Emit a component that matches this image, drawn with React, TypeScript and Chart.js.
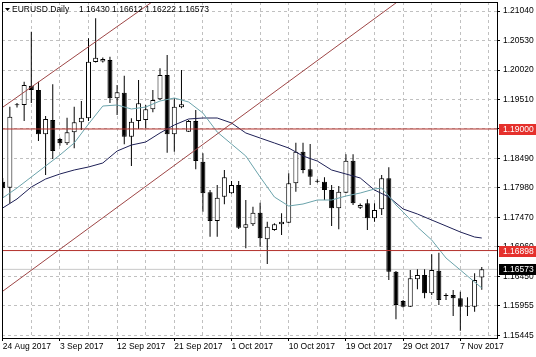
import React, { useEffect, useRef } from 'react';
import { Chart, registerables } from 'chart.js';

Chart.register(...registerables);

// ---- data ----
const dateLabels = ['24 Aug 2017', '3 Sep 2017', '12 Sep 2017', '21 Sep 2017', '1 Oct 2017', '10 Oct 2017', '19 Oct 2017', '29 Oct 2017', '7 Nov 2017'];
const gridBarIndex = [0, 4, 8, 12, 16, 20, 24, 28, 32, 36, 40, 44, 48, 52, 56, 60, 64, 68];
const labelEvery = 8;

const yTickValues = [1.15430, 1.15940, 1.16450, 1.16960, 1.17470, 1.17980, 1.18490, 1.19000, 1.19510, 1.20020, 1.20530, 1.21040];
const yTickLabels = ['1.15445', '1.15955', '1.16450', '1.16960', '1.17470', '1.17980', '1.18490', '1.19000', '1.19510', '1.20020', '1.20530', '1.21040'];

const opens = [1.18089, 1.17985, 1.19412, 1.19415, 1.19748, 1.19674, 1.18908, 1.19155, 1.18827, 1.18753,
  1.18943, 1.19116, 1.19185, 1.20158, 1.20167, 1.20193, 1.19531, 1.19627, 1.18867, 1.19138,
  1.19155, 1.19340, 1.19513, 1.19933, 1.18908, 1.19375, 1.18953, 1.19138, 1.18434, 1.17905,
  1.17409, 1.17829, 1.17888, 1.18032, 1.17293, 1.17352, 1.17553, 1.17093, 1.17254, 1.17352,
  1.17380, 1.18061, 1.18607, 1.18303, 1.18089, 1.18089, 1.17945, 1.17629, 1.17898, 1.18452,
  1.17639, 1.17715, 1.17456, 1.17611, 1.18147, 1.16533, 1.16026, 1.15927, 1.16401, 1.16475,
  1.16159, 1.16550, 1.16112, 1.16130, 1.16073, 1.15927, 1.15927, 1.16430];
const highs = [1.18153, 1.19385, 1.19449, 1.19818, 1.20682, 1.19818, 1.19225, 1.19773, 1.18849, 1.19195,
  1.19385, 1.19484, 1.20568, 1.20914, 1.20236, 1.20250, 1.19761, 1.19921, 1.19185, 1.19847,
  1.19415, 1.19674, 1.20049, 1.20279, 1.19531, 1.20020, 1.19155, 1.19328, 1.18580, 1.17945,
  1.18032, 1.18291, 1.18101, 1.18101, 1.17772, 1.17656, 1.17726, 1.17397, 1.17369, 1.17542,
  1.18234, 1.18763, 1.18763, 1.18740, 1.18130, 1.18165, 1.18032, 1.18014, 1.18562, 1.18562,
  1.17712, 1.17784, 1.17715, 1.18204, 1.18338, 1.16545, 1.16043, 1.16562, 1.16574, 1.16574,
  1.16833, 1.16861, 1.16159, 1.16216, 1.16187, 1.16090, 1.16505, 1.16612];
const lows = [1.17807, 1.17715, 1.19372, 1.19138, 1.19449, 1.18792, 1.18204, 1.18481, 1.18711, 1.18723,
  1.18666, 1.18983, 1.19138, 1.20150, 1.20150, 1.19449, 1.19242, 1.18735, 1.18360, 1.19000,
  1.19012, 1.19289, 1.19501, 1.18590, 1.18607, 1.19358, 1.18948, 1.18303, 1.17570, 1.17138,
  1.17138, 1.17698, 1.17879, 1.17271, 1.16937, 1.17323, 1.16965, 1.16666, 1.17241, 1.17167,
  1.17369, 1.17916, 1.18234, 1.18032, 1.18071, 1.17772, 1.17323, 1.17266, 1.17888, 1.17686,
  1.17617, 1.17254, 1.17397, 1.17513, 1.16389, 1.15710, 1.15914, 1.15922, 1.16228, 1.16073,
  1.16130, 1.15957, 1.16043, 1.15767, 1.15512, 1.15767, 1.15841, 1.16222];
const closes = [1.17975, 1.19213, 1.19412, 1.19761, 1.19674, 1.18908, 1.19173, 1.18619, 1.18753, 1.18943,
  1.19116, 1.19195, 1.20163, 1.20233, 1.20210, 1.19531, 1.19634, 1.18867, 1.19126, 1.19444,
  1.19340, 1.19501, 1.19933, 1.18908, 1.19385, 1.19427, 1.19138, 1.18447, 1.17888, 1.17409,
  1.17812, 1.18165, 1.18032, 1.17293, 1.17352, 1.17553, 1.17110, 1.17311, 1.17352, 1.17397,
  1.18061, 1.18607, 1.18291, 1.18175, 1.18089, 1.17945, 1.17629, 1.17916, 1.18452, 1.17715,
  1.17686, 1.17456, 1.17599, 1.18147, 1.16533, 1.15957, 1.15927, 1.16418, 1.16475, 1.16159,
  1.16562, 1.16043, 1.16112, 1.16073, 1.15927, 1.15927, 1.16389, 1.16573];

const fastMaIndex = [0, 2, 4, 6, 8, 10, 12, 14, 16, 18, 20, 22, 24, 26, 28, 30, 32, 34, 36, 38, 40, 42, 44, 46, 48, 50, 52, 53, 54, 55, 56, 58, 60, 62, 64, 66, 67];
const fastMaValues = [1.17807, 1.17980, 1.18170, 1.18360, 1.18550, 1.18758, 1.19086, 1.19397, 1.19415, 1.19346,
  1.19380, 1.19484, 1.19536, 1.19467, 1.19276, 1.18948, 1.18740, 1.18533, 1.18170, 1.17824,
  1.17668, 1.17703, 1.17772, 1.17772, 1.17841, 1.17893, 1.17962, 1.17980, 1.17841, 1.17686,
  1.17565, 1.17305, 1.17081, 1.16769, 1.16562, 1.16354, 1.16251];

const slowMaIndex = [0, 2, 4, 6, 8, 10, 12, 14, 16, 18, 20, 22, 24, 26, 28, 30, 32, 34, 36, 38, 40, 42, 44, 46, 48, 50, 52, 54, 56, 58, 60, 62, 64, 66, 67];
const slowMaValues = [1.17634, 1.17790, 1.17997, 1.18135, 1.18222, 1.18291, 1.18343, 1.18412, 1.18619, 1.18723,
  1.18775, 1.18931, 1.19069, 1.19173, 1.19190, 1.19190, 1.19104, 1.18931, 1.18844, 1.18758,
  1.18671, 1.18533, 1.18446, 1.18291, 1.18222, 1.18153, 1.17945, 1.17824, 1.17617, 1.17530,
  1.17426, 1.17323, 1.17219, 1.17132, 1.17115];

const upperChannelIndex = [-1, 25];
const upperChannelValues = [1.19289, 1.21555];
const lowerChannelIndex = [-1, 58];
const lowerChannelValues = [1.16104, 1.21452];

const levelValues = [1.19000, 1.16898];
const lastPrice = 1.16573;
const symbolTitle = 'EURUSD.Daily';

// ---- styling ----
const FONT = 'Liberation Sans';
const FONT_SIZE = 8.5;
const GRID = '#c0c0c0';
const LEVEL_RED = '#b3312c';
const CHANNEL_RED = '#9e4646';
const TAG_RED = '#e5302c';
const FAST_MA = '#6aa3ab';
const SLOW_MA = '#1e2056';

const barIndex = opens.map((_, i) => i);
const toPoints = (xs: number[], ys: number[]) => xs.map((x, i) => ({ x, y: ys[i] }));

export default function App() {
  const ref = useRef<HTMLCanvasElement | null>(null);

  useEffect(() => {
    document.body.style.margin = '0';
    const canvas = ref.current;
    if (!canvas) return;

    const wickData = barIndex.map((i) => ({ x: i, y: [lows[i], highs[i]] }));
    const bodyData = barIndex.map((i) => ({ x: i, y: [opens[i], closes[i]] }));
    const bodyColors = barIndex.map((i) => (closes[i] > opens[i] ? '#ffffff' : '#000000'));

    const priceTags = [
      { value: levelValues[0], bg: TAG_RED },
      { value: levelValues[1], bg: TAG_RED },
      { value: lastPrice, bg: '#000000' },
    ];
    const last = opens.length - 1;
    const titleValues = [opens[last], highs[last], lows[last], closes[last]].map((v) => v.toFixed(5)).join(' ');

    const overlay = {
      id: 'mt4overlay',
      afterDraw(chart: any) {
        const { ctx, chartArea } = chart;
        const ys = chart.scales.y;
        ctx.save();
        ctx.strokeStyle = '#000';
        ctx.lineWidth = 1;
        ctx.strokeRect(
          Math.round(chartArea.left) + 0.5,
          Math.round(chartArea.top) + 0.5,
          Math.round(chartArea.right - chartArea.left),
          Math.round(chartArea.bottom - chartArea.top)
        );
        ctx.font = `${FONT_SIZE}px "${FONT}"`;
        ctx.textBaseline = 'middle';
        ctx.textAlign = 'left';
        priceTags.forEach((tag) => {
          const py = Math.round(ys.getPixelForValue(tag.value));
          ctx.fillStyle = tag.bg;
          ctx.fillRect(chartArea.right + 2, py - 5, chart.width - chartArea.right - 2, 11);
          ctx.fillStyle = '#ffffff';
          ctx.fillText(tag.value.toFixed(5), chartArea.right + 6, py + 0.5);
        });
        ctx.fillStyle = '#000';
        ctx.beginPath();
        ctx.moveTo(5, 8);
        ctx.lineTo(10, 8);
        ctx.lineTo(7.5, 11);
        ctx.closePath();
        ctx.fill();
        ctx.fillText(symbolTitle, 12, 10);
        ctx.fillText(titleValues, 79, 10);
        ctx.restore();
      },
    };

    const lineDs = (data: any[], color: string, order: number) => ({
      type: 'line' as const,
      data,
      borderColor: color,
      borderWidth: 1,
      pointRadius: 0,
      fill: false,
      tension: 0,
      order,
    });

    const chart = new Chart(canvas, {
      type: 'bar',
      data: {
        datasets: [
          lineDs([{ x: -1, y: lastPrice }, { x: 70, y: lastPrice }], '#c8c8c8', 10) as any,
          {
            type: 'bar',
            data: wickData as any,
            backgroundColor: '#000000',
            borderWidth: 0,
            barThickness: 1,
            minBarLength: 1,
            grouped: false,
            inflateAmount: 0,
            order: 6,
          },
          {
            type: 'bar',
            data: bodyData as any,
            backgroundColor: bodyColors,
            borderColor: '#000000',
            borderWidth: 1,
            borderSkipped: false,
            barThickness: 5,
            minBarLength: 1,
            grouped: false,
            inflateAmount: 0,
            order: 5,
          },
          lineDs(toPoints(fastMaIndex, fastMaValues), FAST_MA, 3) as any,
          lineDs(toPoints(slowMaIndex, slowMaValues), SLOW_MA, 3) as any,
          lineDs([{ x: -1, y: levelValues[0] }, { x: 70, y: levelValues[0] }], LEVEL_RED, 2) as any,
          lineDs([{ x: -1, y: levelValues[1] }, { x: 70, y: levelValues[1] }], LEVEL_RED, 2) as any,
          lineDs(toPoints(upperChannelIndex, upperChannelValues), CHANNEL_RED, 1) as any,
          lineDs(toPoints(lowerChannelIndex, lowerChannelValues), CHANNEL_RED, 1) as any,
        ],
      },
      options: {
        responsive: false,
        animation: false,
        devicePixelRatio: 1,
        layout: { padding: { left: 2, top: 2, right: 0, bottom: 0 } },
        plugins: { legend: { display: false }, tooltip: { enabled: false } },
        scales: {
          x: {
            type: 'linear',
            min: -0.098,
            max: 69.13,
            offset: false,
            afterBuildTicks: (scale: any) => {
              scale.ticks = gridBarIndex.map((v) => ({ value: v }));
            },
            afterFit: (scale: any) => {
              scale.height = 19;
              scale.paddingLeft = 0;
              scale.paddingRight = 0;
            },
            grid: {
              offset: false,
              color: GRID,
              lineWidth: 1,
              drawTicks: true,
              tickLength: 3,
              tickBorderDash: [],
              tickColor: (ctx: any) => (ctx.tick && ctx.tick.value % labelEvery === 0 ? '#000000' : 'rgba(0,0,0,0)'),
            },
            border: { display: true, color: '#000000', dash: [3, 3] },
            ticks: {
              autoSkip: false,
              maxRotation: 0,
              minRotation: 0,
              align: 'start',
              padding: 1,
              color: '#000000',
              font: { family: FONT, size: FONT_SIZE },
              callback: (value: any) => (Number(value) % labelEvery === 0 ? dateLabels[Number(value) / labelEvery] : ''),
            },
          },
          y: {
            type: 'linear',
            position: 'right',
            min: 1.15386,
            max: 1.21196,
            beginAtZero: false,
            afterBuildTicks: (scale: any) => {
              scale.ticks = yTickValues.map((v) => ({ value: v }));
            },
            afterFit: (scale: any) => {
              scale.width = 39;
              scale.paddingTop = 0;
              scale.paddingBottom = 0;
            },
            grid: {
              color: GRID,
              lineWidth: 1,
              drawTicks: true,
              tickLength: 3,
              tickBorderDash: [],
              tickColor: '#000000',
            },
            border: { display: true, color: '#000000', dash: [3, 3] },
            ticks: {
              padding: 3,
              color: '#000000',
              font: { family: FONT, size: FONT_SIZE },
              callback: (_v: any, index: number) => yTickLabels[index],
            },
          },
        },
      } as any,
      plugins: [overlay],
    });

    return () => chart.destroy();
  }, []);

  return (
    <div style={{ position: 'absolute', left: 0, top: 0, width: 536, height: 357, background: '#ffffff' }}>
      <canvas ref={ref} width={536} height={357} style={{ display: 'block', width: 536, height: 357 }} />
    </div>
  );
}
